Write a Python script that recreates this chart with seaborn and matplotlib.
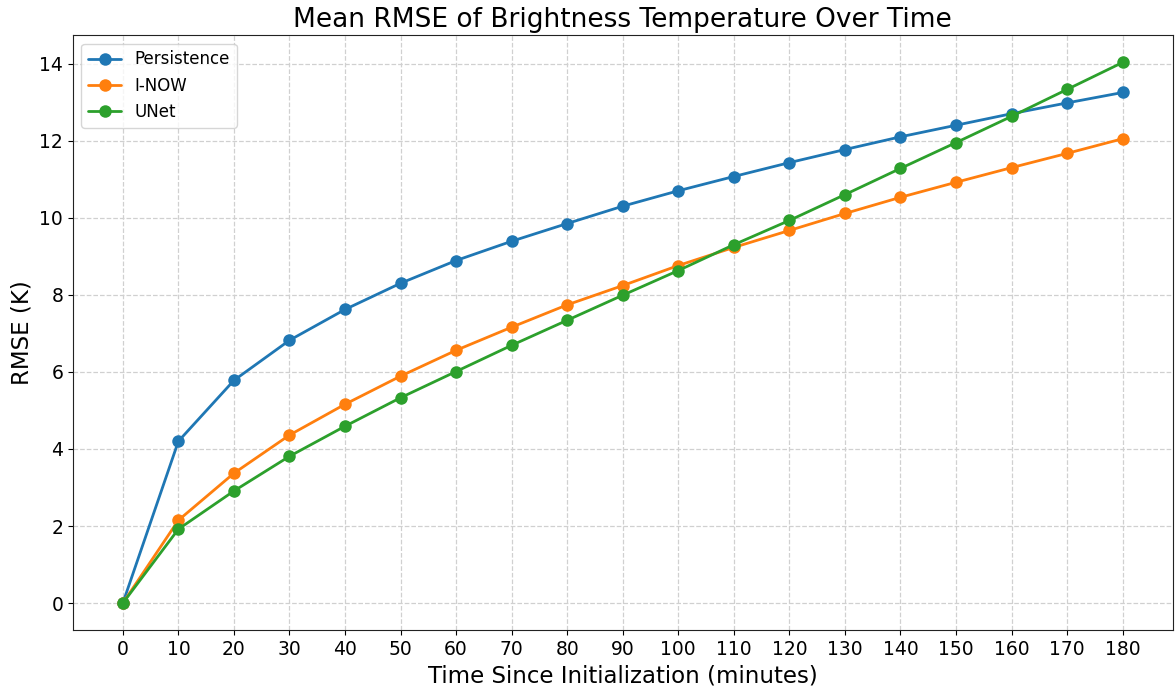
import numpy as np
import pandas as pd
import matplotlib
matplotlib.use("Agg")
import matplotlib.pyplot as plt
import seaborn as sns

minutes = [0, 10, 20, 30, 40, 50, 60, 70, 80, 90, 100, 110, 120, 130, 140, 150, 160, 170, 180]
persistence = [0.0, 4.20, 5.78, 6.82, 7.62, 8.30, 8.89, 9.39, 9.85, 10.30, 10.70, 11.07, 11.43, 11.77, 12.10, 12.40, 12.70, 12.98, 13.25]
inow = [0.0, 2.15, 3.37, 4.36, 5.16, 5.89, 6.56, 7.16, 7.74, 8.24, 8.76, 9.23, 9.67, 10.11, 10.53, 10.92, 11.30, 11.67, 12.05]
unet = [0.0, 1.92, 2.91, 3.81, 4.59, 5.33, 6.01, 6.69, 7.34, 7.99, 8.63, 9.30, 9.93, 10.60, 11.28, 11.95, 12.63, 13.33, 14.03]
series_names = ["Persistence", "I-NOW", "UNet"]

df = pd.DataFrame({
    "minutes": minutes * 3,
    "rmse": persistence + inow + unet,
    "model": sum([[n] * len(minutes) for n in series_names], []),
})

sns.set_style("ticks")
plt.rcParams['font.family'] = ['DejaVu Sans']
plt.rcParams.update({"text.color": "black", "axes.labelcolor": "black",
                     "xtick.color": "black", "ytick.color": "black"})

fig, ax = plt.subplots(figsize=(11.75, 6.94), dpi=100)
sns.lineplot(data=df, x="minutes", y="rmse", hue="model", hue_order=series_names,
             palette=["#1f77b4", "#ff7f0e", "#2ca02c"], marker="o", markersize=9,
             markeredgewidth=0, linewidth=2, ax=ax)

ax.set_xticks(minutes)
ax.tick_params(axis="both", labelsize=13.5)
ax.set_xlabel("Time Since Initialization (minutes)", fontsize=16.5)
ax.set_ylabel("RMSE (K)", fontsize=16.5)
ax.set_title("Mean RMSE of Brightness Temperature Over Time", fontsize=19)
ax.grid(True, linestyle="--", color="#d0d0d0", linewidth=0.9)
ax.legend(title=None, loc="upper left", fontsize=12)
for s in ax.spines.values():
    s.set_visible(True)
    s.set_color("#222222")

fig.subplots_adjust(left=0.062, right=0.998, top=0.949, bottom=0.092)
fig.savefig("out.png", dpi=100)
